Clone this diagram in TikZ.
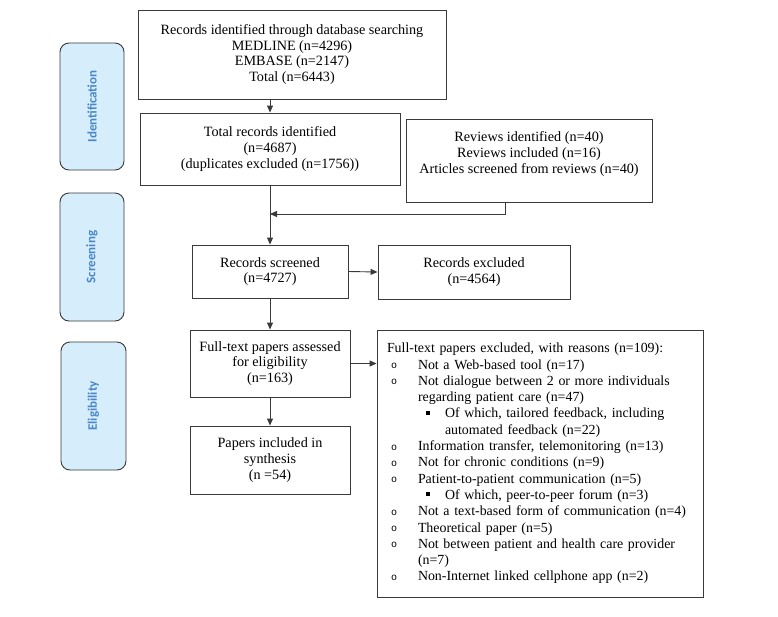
\documentclass[tikz,border=0pt]{standalone}
\usepackage{fontspec}
\setmainfont{Liberation Serif}
\newfontfamily\sidefont{Carlito}
\newfontfamily\bulfont{Liberation Mono}
\usetikzlibrary{arrows.meta}
\definecolor{sidefill}{HTML}{D6EEFB}
\definecolor{sidetext}{HTML}{4A86C8}
\definecolor{edgec}{HTML}{3A3A3A}
\newcommand{\myb}{\hspace*{4pt}\makebox[27pt][l]{\raisebox{0.5pt}{\bulfont\fontsize{10}{10}\selectfont o}}}
\newcommand{\myi}{\hspace*{31pt}}
\newcommand{\mysb}{\hspace*{39pt}\makebox[19pt][l]{\rule[3pt]{4pt}{4pt}}}
\newcommand{\mysi}{\hspace*{58pt}}
\begin{document}
\begin{tikzpicture}[x=1pt,y=-1pt,
 box/.style={draw=edgec, line width=0.9pt, align=center, font=\fontsize{14.2}{15.8}\selectfont, inner sep=0pt},
 side/.style={draw=edgec, fill=sidefill, rounded corners=9pt, line width=0.9pt, rotate=90, font=\sidefont\bfseries\fontsize{13}{14}\selectfont, text=sidetext, inner sep=0pt},
 arr/.style={draw=edgec, line width=0.9pt, -{Triangle[length=7pt,width=6pt]}},
 ln/.style={draw=edgec, line width=0.9pt}]
\useasboundingbox (0,0) rectangle (778,616);
\fill[white] (0,0) rectangle (778,616);

% side labels
\node[side, minimum width=127pt, minimum height=64pt] (s1) at (92,106.5) {Identification};
\node[side, minimum width=128pt, minimum height=64pt] (s2) at (92,257) {Screening};
\node[side, minimum width=128pt, minimum height=65pt] (s3) at (93.5,406) {Eligibility};

% boxes
\node[box, minimum width=308pt, minimum height=89pt] (b1) at (292,54.5)
 {Records identified through database searching\\MEDLINE (n=4296)\\EMBASE (n=2147)\\Total (n=6443)};
\node[box, minimum width=260pt, minimum height=72pt] (b2) at (270,149)
 {Total records identified\\(n=4687)\\(duplicates excluded (n=1756))};
\node[box, minimum width=246pt, minimum height=83pt] (b3) at (529,160.5)
 {Reviews identified (n=40)\\Reviews included (n=16)\\Articles screened from reviews (n=40)\\ \mbox{}};
\node[box, minimum width=156pt, minimum height=53pt] (b4) at (270,271.5)
 {Records screened\\(n=4727)};
\node[box, minimum width=192pt, minimum height=54pt] (b5) at (474,272)
 {Records excluded\\(n=4564)};
\node[box, minimum width=160pt, minimum height=67pt] (b6) at (270,363.5)
 {Full-text papers assessed\\for eligibility\\(n=163)};
\node[box, minimum width=160pt, minimum height=68pt] (b7) at (270,460)
 {Papers included in\\synthesis\\(n =54)};
\node[box, minimum width=326pt, minimum height=267pt, text width=306pt, align=left,
 font=\fontsize{13.9}{16.3}\selectfont] (b8) at (540,463.5)
 {Full-text papers excluded, with reasons (n=109):\\
 \myb Not a Web-based tool (n=17)\\
 \myb Not dialogue between 2 or more individuals\\
 \myi regarding patient care (n=47)\\
 \mysb Of which, tailored feedback, including\\
 \mysi automated feedback (n=22)\\
 \myb Information transfer, telemonitoring (n=13)\\
 \myb Not for chronic conditions (n=9)\\
 \myb Patient-to-patient communication (n=5)\\
 \mysb Of which, peer-to-peer forum (n=3)\\
 \myb Not a text-based form of communication (n=4)\\
 \myb Theoretical paper (n=5)\\
 \myb Not between patient and health care provider\\
 \myi (n=7)\\
 \myb Non-Internet linked cellphone app (n=2)};

% connectors
\coordinate (j) at (270,214);
\draw[arr] (b2.north |- b1.south) -- (b2.north);
\draw[arr] (b2.south) -- (b4.north);
\draw[arr] ([xshift=-24pt]b3.south) |- (j);
\draw[arr] (b4.east) -- (b5.west);
\draw[arr] (b4.south) -- (b6.north);
\draw[arr] (b6.east) -- (b6.east -| b8.west);
\draw[arr] (b6.south) -- (b7.north);
\end{tikzpicture}
\end{document}
